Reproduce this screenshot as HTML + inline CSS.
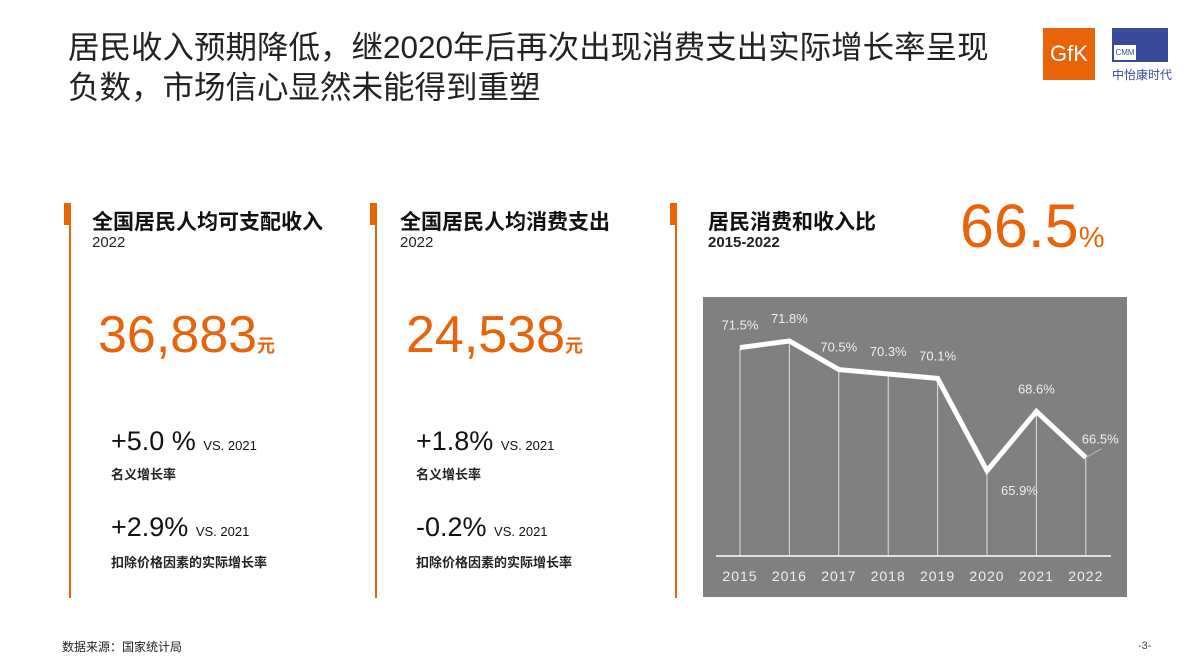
<!DOCTYPE html>
<html><head><meta charset="utf-8"><style>
body{margin:0;width:1190px;height:669px;background:#fff;position:relative;overflow:hidden;font-family:"Liberation Sans","Noto Sans CJK SC",sans-serif;}
.a{position:absolute;white-space:nowrap;}
.t{font-size:31.5px;color:#222;left:68px;line-height:40px;}
.h{font-size:21px;font-weight:bold;color:#111;}
.y{font-size:15px;color:#222;}
.big{font-size:52px;color:#e8630a;}
.big small{font-size:18px;font-weight:bold;}
.pct{font-size:27px;color:#111;}
.pct small{font-size:13px;}
.lab{font-size:13px;font-weight:bold;color:#222;}
.vl{position:absolute;width:2px;background:#e8630a;top:203px;height:395px;}
.bk{position:absolute;width:6px;background:#e8630a;top:203px;height:22px;}
</style></head><body>
<div class="a t" style="top:27px">居民收入预期降低，继2020年后再次出现消费支出实际增长率呈现</div>
<div class="a t" style="top:67px">负数，市场信心显然未能得到重塑</div>
<div class="a" style="left:1043px;top:28px;width:52px;height:52px;background:#e8630a;color:#fff;font-size:22px;line-height:52px;text-align:center;">GfK</div>
<div class="a" style="left:1112px;top:28px;width:56px;height:34px;background:#3a4a9a;"></div>
<div class="a" style="left:1114px;top:45px;width:22px;height:15px;background:#fff;font-size:8px;color:#3a4a9a;text-align:center;line-height:15px">CMM</div>
<div class="a" style="left:1112px;top:66px;font-size:12px;color:#3a4a9a">中怡康时代</div>

<div class="vl" style="left:69px"></div><div class="bk" style="left:64px"></div>
<div class="vl" style="left:375px"></div><div class="bk" style="left:370px"></div>
<div class="vl" style="left:675px"></div><div class="bk" style="left:670px"></div>

<div class="a h" style="left:92px;top:206px">全国居民人均可支配收入</div>
<div class="a y" style="left:92px;top:234px">2022</div>
<div class="a big" style="left:98px;top:305px">36,883<small>元</small></div>
<div class="a pct" style="left:111px;top:426px">+5.0 % <small>VS. 2021</small></div>
<div class="a lab" style="left:111px;top:464px">名义增长率</div>
<div class="a pct" style="left:111px;top:512px">+2.9% <small>VS. 2021</small></div>
<div class="a lab" style="left:111px;top:552px">扣除价格因素的实际增长率</div>

<div class="a h" style="left:400px;top:206px">全国居民人均消费支出</div>
<div class="a y" style="left:400px;top:234px">2022</div>
<div class="a big" style="left:406px;top:305px">24,538<small>元</small></div>
<div class="a pct" style="left:416px;top:426px">+1.8% <small>VS. 2021</small></div>
<div class="a lab" style="left:416px;top:464px">名义增长率</div>
<div class="a pct" style="left:416px;top:512px">-0.2% <small>VS. 2021</small></div>
<div class="a lab" style="left:416px;top:552px">扣除价格因素的实际增长率</div>

<div class="a h" style="left:708px;top:206px">居民消费和收入比</div>
<div class="a y" style="left:708px;top:234px;font-weight:bold">2015-2022</div>
<div class="a" style="left:960px;top:191px;font-size:61px;color:#e8630a">66.5<span style="font-size:29px">%</span></div>

<svg class="a" style="left:0;top:0" width="1190" height="669" id="chart">
<rect x="703" y="297" width="424" height="300" fill="#808080"/>
</svg>
<div class="a" style="left:62px;top:638px;font-size:12px;color:#222">数据来源：国家统计局</div>
<div class="a" style="left:1138px;top:640px;font-size:11px;color:#444">-3-</div>
<script>
const years=['2015','2016','2017','2018','2019','2020','2021','2022'];
const values=[71.5,71.8,70.5,70.3,70.1,65.9,68.6,66.5];
const labels=['71.5%','71.8%','70.5%','70.3%','70.1%','65.9%','68.6%','66.5%'];
const svg=document.getElementById('chart');const NS='http://www.w3.org/2000/svg';
const X=i=>740+i*49.4;const Y=v=>341+(71.8-v)*22;const base=556;
function mk(t,a){const e=document.createElementNS(NS,t);for(const k in a)e.setAttribute(k,a[k]);svg.appendChild(e);return e;}
let pts=[];
values.forEach((v,i)=>{
const l=mk('line',{x1:X(i),x2:X(i),y1:Y(v),y2:base,stroke:'#e0e0e0','stroke-width':1});


pts.push(X(i)+','+Y(v));
let dy=-18,dx=0,anc='middle';
if(i==5){dy=24;dx=14;anc='start';}
if(i==7){dy=-14;dx=-4;anc='start';}
const t=mk('text',{x:X(i)+dx,y:Y(v)+dy,fill:'#eee','font-size':13,'text-anchor':anc,'font-family':'Liberation Sans, sans-serif'});
t.textContent=labels[i];


const yt=mk('text',{x:X(i),y:581,fill:'#eee','font-size':14,'text-anchor':'middle','letter-spacing':'1','font-family':'Liberation Sans, sans-serif'});
yt.textContent=years[i];


});
const ld=mk('line',{x1:X(7),y1:Y(values[7]),x2:X(7)+16,y2:Y(values[7])-9,stroke:'#bbb','stroke-width':1});


const ax=mk('line',{x1:716,x2:1111,y1:base,y2:base,stroke:'#fff','stroke-width':1.5});


const pl=mk('polyline',{points:pts.join(' '),fill:'none',stroke:'#fff','stroke-width':5,'stroke-linejoin':'miter'});


</script>
</body></html>
